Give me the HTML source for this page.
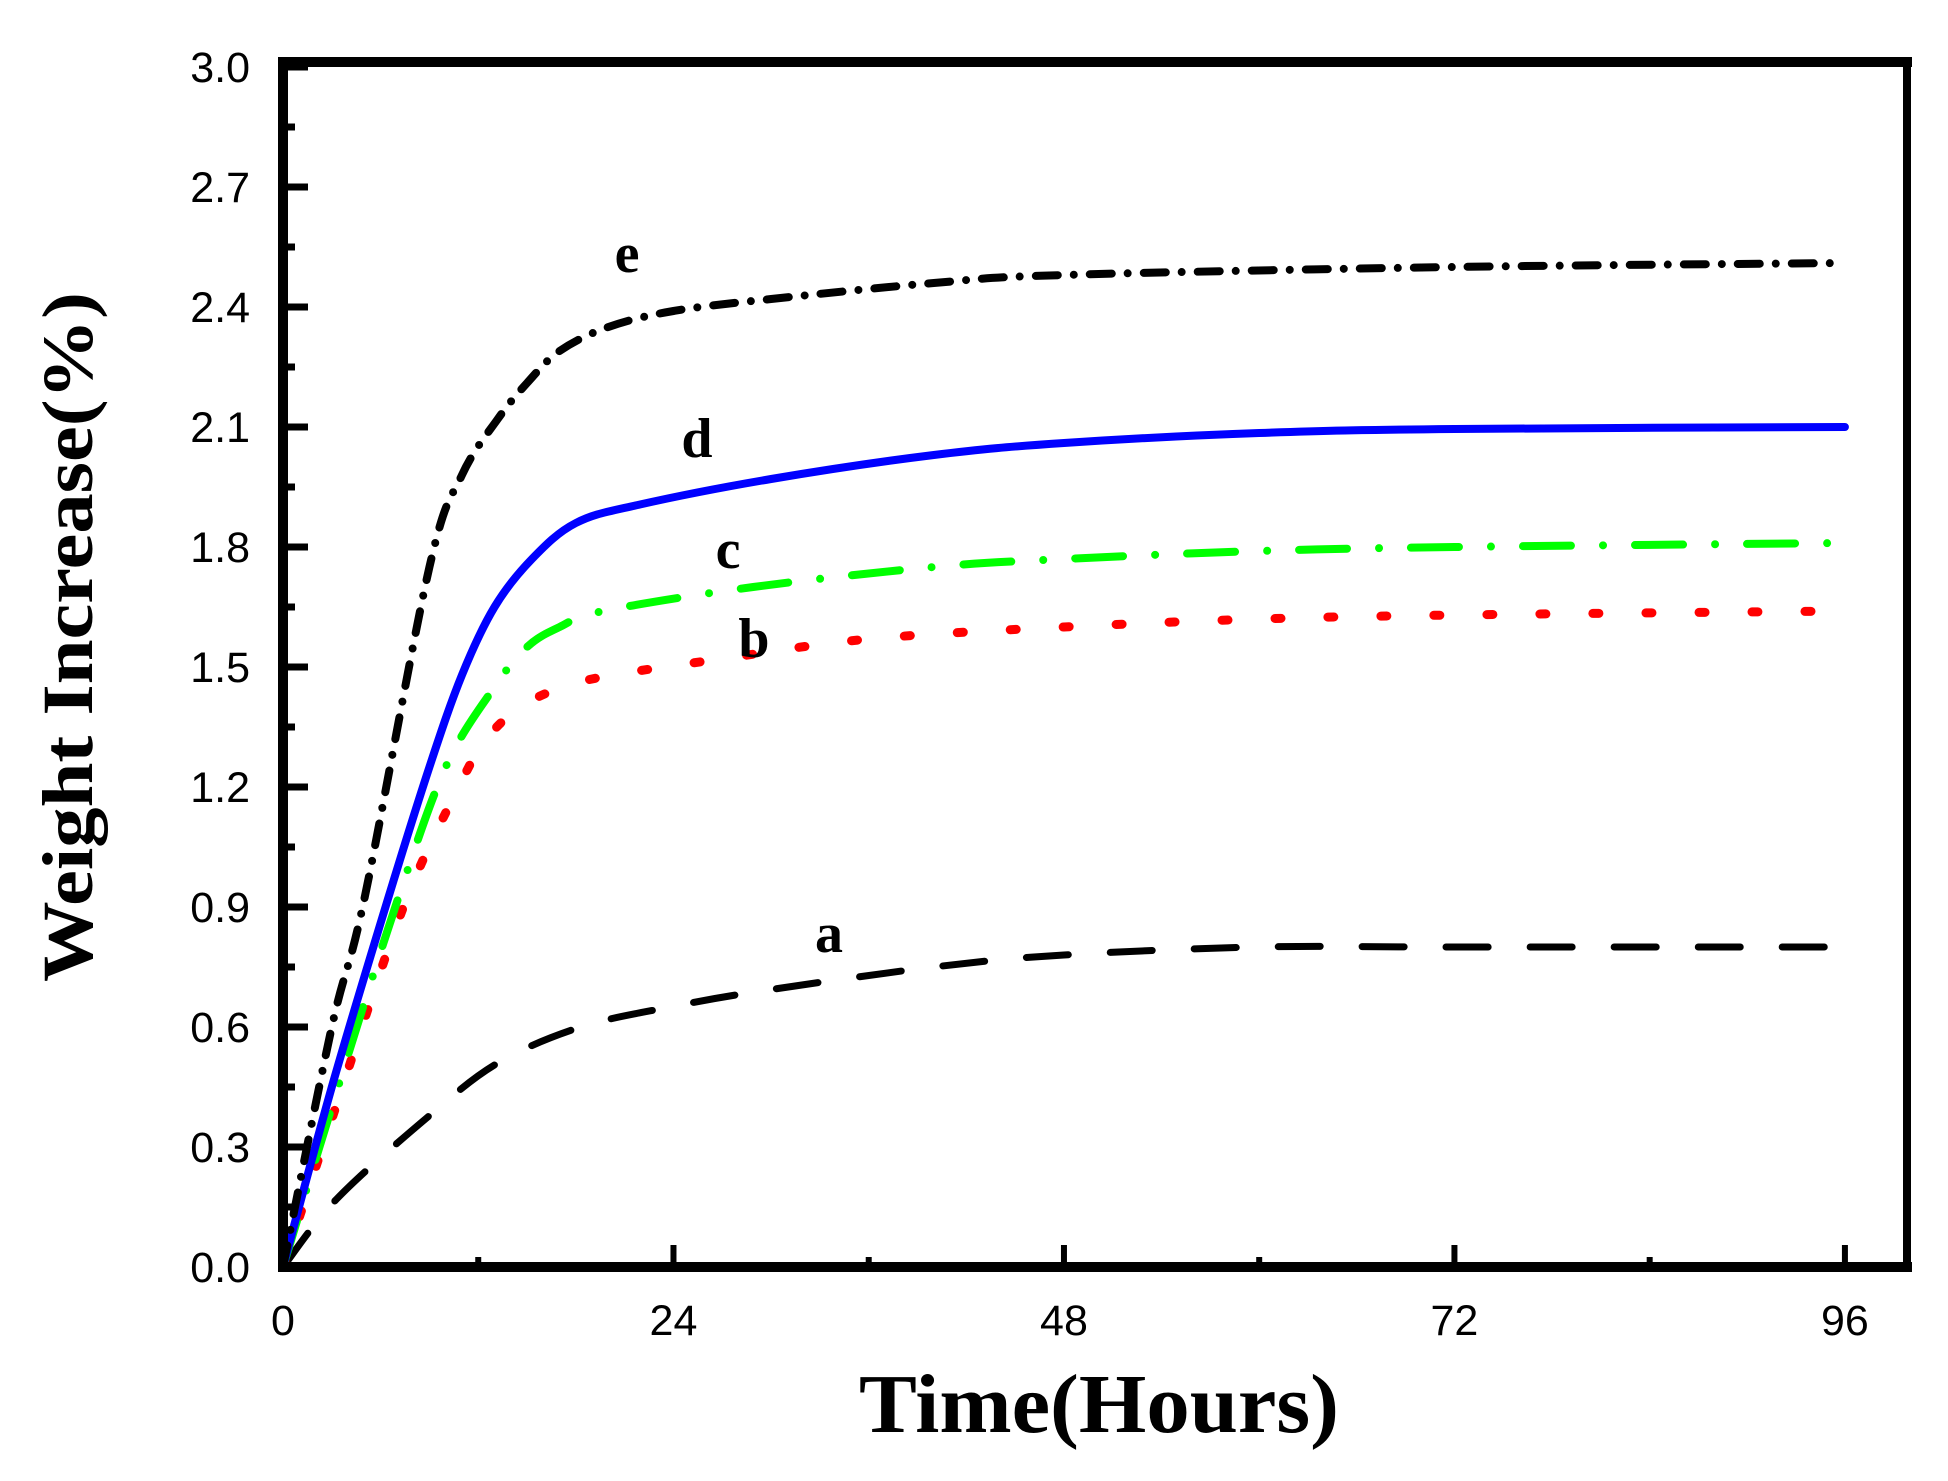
<!DOCTYPE html>
<html><head><meta charset="utf-8"><style>
html,body{margin:0;padding:0;background:#fff;}
svg{display:block;}
</style></head><body>
<svg id="s" width="1948" height="1481" xmlns="http://www.w3.org/2000/svg">
<rect width="1948" height="1481" fill="#fff"/>
<g id="curves"></g>
<g id="axes"></g>
<g font-family="Liberation Sans, sans-serif" font-size="43" fill="#000" id="ticklab"></g>
<g font-family="Liberation Serif, serif" font-weight="bold" font-size="56" fill="#000">
<text x="627" y="272" text-anchor="middle">e</text>
<text x="697" y="457" text-anchor="middle">d</text>
<text x="728" y="568" text-anchor="middle">c</text>
<text x="754" y="657" text-anchor="middle">b</text>
<text x="829" y="952" text-anchor="middle">a</text>
</g>
<text x="1099" y="1432" text-anchor="middle" font-family="Liberation Serif, serif" font-weight="bold" font-size="84" textLength="480" lengthAdjust="spacingAndGlyphs">Time(Hours)</text>
<text transform="translate(92,637) rotate(-90)" text-anchor="middle" font-family="Liberation Serif, serif" font-weight="bold" font-size="72" textLength="690" lengthAdjust="spacingAndGlyphs">Weight Increase(%)</text>
</svg>
<script>
var NS="http://www.w3.org/2000/svg";
function X(t){return 283+t*16.27;}
function Y(v){return 1267-v*400;}
function path(pts){
 var p=pts.map(function(a){return [X(a[0]),Y(a[1])];});
 var d="M"+p[0][0]+","+p[0][1];
 for(var i=0;i<p.length-1;i++){
  var p0=p[Math.max(0,i-1)],p1=p[i],p2=p[i+1],p3=p[Math.min(p.length-1,i+2)];
  var c1=[p1[0]+(p2[0]-p0[0])/6,p1[1]+(p2[1]-p0[1])/6];
  var c2=[p2[0]-(p3[0]-p1[0])/6,p2[1]-(p3[1]-p1[1])/6];
  d+=" C"+c1[0]+","+c1[1]+" "+c2[0]+","+c2[1]+" "+p2[0]+","+p2[1];
 }
 return d;
}
var series=[
 {c:"#000",dash:"42 42",w:7,pts:[[0,0],[3.3,0.17],[8.9,0.375],[13.2,0.51],[18.3,0.6],[23.8,0.65],[29.4,0.69],[40,0.75],[48,0.78],[60,0.8],[72,0.8],[96,0.8]]},
 {c:"#ff0000",dash:"6 47",w:9,pts:[[0,0],[3,0.37],[7.4,0.9],[10.8,1.2],[12.5,1.32],[14.6,1.4],[17.2,1.45],[20.3,1.48],[26.9,1.52],[36,1.57],[48,1.6],[60,1.62],[72,1.63],[96,1.64]]},
 {c:"#00ff00",dash:"48 32 0 32",w:8,pts:[[0,0],[3,0.4],[6.9,0.9],[10,1.25],[13,1.45],[15,1.55],[17,1.6],[19.7,1.64],[28.9,1.70],[40,1.75],[48,1.77],[60,1.79],[72,1.80],[96,1.81]]},
 {c:"#0000ff",dash:"",w:8,pts:[[0,0],[3,0.45],[6.3,0.9],[9,1.25],[11,1.48],[13,1.65],[15.3,1.77],[18,1.86],[21.8,1.905],[30,1.97],[40,2.03],[48,2.06],[60,2.085],[72,2.095],[96,2.1]]},
 {c:"#000",dash:"22 16 0 16",w:8,pts:[[0,0],[3,0.6],[5,0.92],[9,1.75],[11,1.98],[13.2,2.12],[15,2.21],[17,2.29],[20,2.35],[24,2.39],[30,2.42],[40,2.46],[48,2.48],[72,2.5],[96,2.51]]}
];
var g=document.getElementById("curves");
series.forEach(function(s){
 var e=document.createElementNS(NS,"path");
 e.setAttribute("d",path(s.pts));e.setAttribute("fill","none");
 e.setAttribute("stroke",s.c);e.setAttribute("stroke-width",s.w);
 e.setAttribute("stroke-linecap","round");e.setAttribute("stroke-linejoin","round");
 if(s.dash)e.setAttribute("stroke-dasharray",s.dash);
 g.appendChild(e);
});
var ax=document.getElementById("axes");
function line(x1,y1,x2,y2,w){var e=document.createElementNS(NS,"line");
 e.setAttribute("x1",x1);e.setAttribute("y1",y1);e.setAttribute("x2",x2);e.setAttribute("y2",y2);
 e.setAttribute("stroke","#000");e.setAttribute("stroke-width",w);ax.appendChild(e);}
line(278,62,1912,62,10);
line(283,62,283,1272,10);
line(278,1267,1912,1267,10);
line(1907,62,1907,1272,8);
for(var i=0;i<=20;i++){var y=Y(i*0.15);var len=(i%2==0)?25:12;line(283,y,283+len,y,7);}
for(var h=12;h<=96;h+=12){var x=X(h);var len=(h%24==0)?22:10;line(x,1267,x,1267-len,6);}
var tl=document.getElementById("ticklab");
for(var i=0;i<=10;i++){var t=document.createElementNS(NS,"text");
 t.setAttribute("x",250);t.setAttribute("y",Y(i*0.3)+15);t.setAttribute("text-anchor","end");
 t.textContent=(i*0.3).toFixed(1);tl.appendChild(t);}
[0,24,48,72,96].forEach(function(h){var t=document.createElementNS(NS,"text");
 t.setAttribute("x",X(h));t.setAttribute("y",1335);t.setAttribute("text-anchor","middle");
 t.textContent=h;tl.appendChild(t);});
</script>
</body></html>
